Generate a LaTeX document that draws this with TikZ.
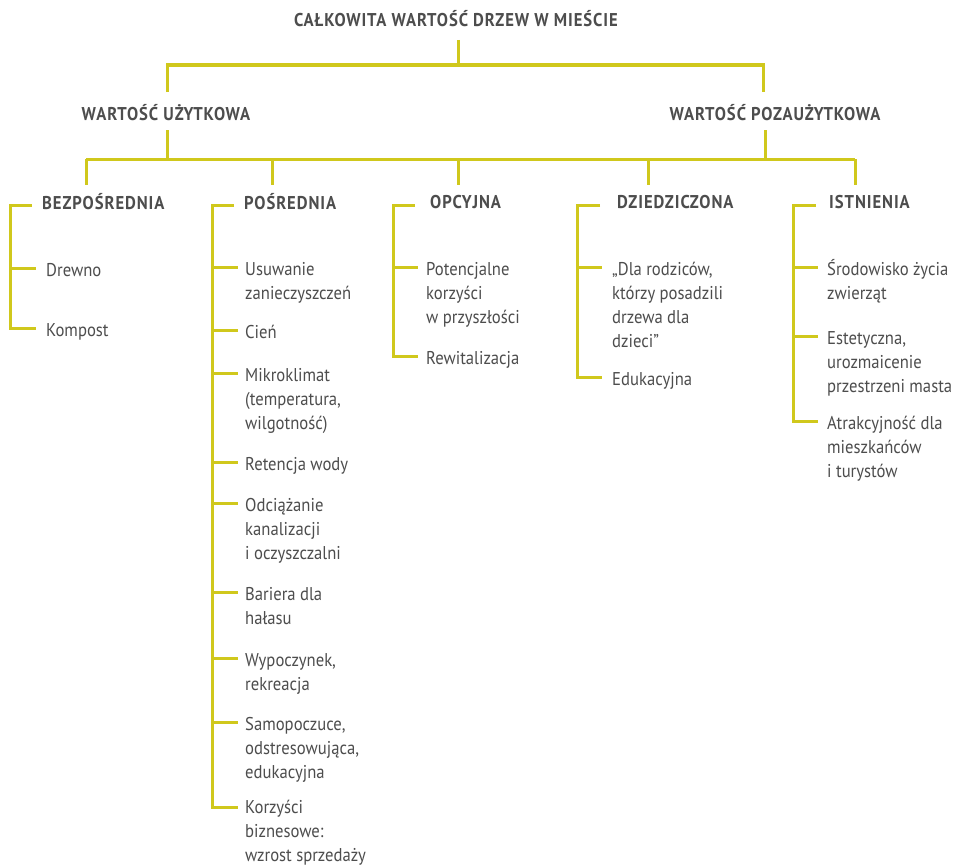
\documentclass[tikz,border=0pt]{standalone}
\usepackage{fontspec}
\setmainfont{PT Sans}[FakeStretch=0.9]
\newfontfamily\hdfont{PT Sans}[FakeStretch=0.9,LetterSpace=5]
\definecolor{ln}{RGB}{208,200,28}
\definecolor{tx}{RGB}{77,77,77}
\tikzset{
  conn/.style={draw=ln, line width=3pt, line join=miter},
  item/.style={anchor=north west, inner sep=0pt, align=left, text=tx, font=\fontsize{18.5}{24}\selectfont},
  head/.style={anchor=west, inner sep=0pt, text=tx, font=\hdfont\fontsize{18.5}{24}\selectfont\bfseries},
  top/.style={anchor=center, inner sep=0pt, text=tx, font=\hdfont\fontsize{18.5}{24}\selectfont\bfseries},
}
\begin{document}
\begin{tikzpicture}[x=1pt,y=-1pt]
\useasboundingbox[fill=white] (0,0) rectangle (963,867);
% top levels
\node[top] (title) at (456,19) {CAŁKOWITA WARTOŚĆ DRZEW W MIEŚCIE};
\node[top] (uz) at (166,113) {WARTOŚĆ UŻYTKOWA};
\node[top] (poz) at (775,113) {WARTOŚĆ POZAUŻYTKOWA};
\coordinate (c0) at (458,40);
\coordinate (j0) at (458,65);
\coordinate (jl) at (167,65);
\coordinate (jr) at (763,65);
\coordinate (dl) at (167,92);
\coordinate (dr) at (763,92);
\draw[conn] (c0) -- (j0);
\draw[conn] (dl) -- (jl) -- (jr) -- (dr);
\coordinate (ul) at (167,130);
\coordinate (ur) at (765,130);
\coordinate (ul2) at (167,159);
\coordinate (ur2) at (765,159);
\draw[conn] (ul) -- (ul2);
\draw[conn] (ur) -- (ur2);
\coordinate (h1) at (86,159);
\coordinate (h2) at (272,159);
\coordinate (h3) at (458,159);
\coordinate (h4) at (648,159);
\coordinate (h5) at (855,159);
\coordinate (d1) at (86,185);
\coordinate (d2) at (272,185);
\coordinate (d3) at (458,185);
\coordinate (d4) at (648,185);
\coordinate (d5) at (855,185);
\draw[conn] (h1) -- (h5);
\draw[conn] (h1) -- (d1);
\draw[conn] (h2) -- (d2);
\draw[conn] (h3) -- (d3);
\draw[conn] (h4) -- (d4);
\draw[conn] (h5) -- (d5);
% headers
\node[head] (bez) at (42,202) {BEZPOŚREDNIA};
\node[head] (pos) at (244,202) {POŚREDNIA};
\node[head] (opc) at (430,202) {OPCYJNA};
\node[head] (dzi) at (617,202) {DZIEDZICZONA};
\node[head] (ist) at (829,202) {ISTNIENIA};
% BEZPOSREDNIA
\node[item] (drewno) at (46,259) {\strut Drewno};
\node[item] (kompost) at (46,319) {\strut Kompost};
\coordinate (b1t) at (32,205);
\coordinate (b1a) at (36,268);
\coordinate (b1b) at (36,328);
\draw[conn] (b1t) -- (10,205) -- (10,328) -- (b1b);
\draw[conn] (10,268) -- (b1a);
% POSREDNIA
\node[item] (p1) at (245,258) {\strut Usuwanie\\zanieczyszczeń};
\node[item] (p2) at (245,321) {\strut Cień};
\node[item] (p3) at (245,364) {\strut Mikroklimat\\(temperatura,\\wilgotność)};
\node[item] (p4) at (245,453) {\strut Retencja wody};
\node[item] (p5) at (245,494) {\strut Odciążanie\\kanalizacji\\i oczyszczalni};
\node[item] (p6) at (245,583) {\strut Bariera dla\\hałasu};
\node[item] (p7) at (245,649) {\strut Wypoczynek,\\rekreacja};
\node[item] (p8) at (245,713) {\strut Samopoczuce,\\odstresowująca,\\edukacyjna};
\node[item] (p9) at (245,796.5) {\strut Korzyści\\biznesowe:\\wzrost sprzedaży};
\coordinate (b2t) at (234,205);
\coordinate (b2a) at (238,267);
\coordinate (b2b) at (238,330);
\coordinate (b2c) at (238,373);
\coordinate (b2d) at (238,462);
\coordinate (b2e) at (238,503);
\coordinate (b2f) at (238,592);
\coordinate (b2g) at (238,658);
\coordinate (b2h) at (238,722);
\coordinate (b2i) at (238,807);
\draw[conn] (b2t) -- (212,205) -- (212,807) -- (b2i);
\foreach \c/\yy in {b2a/267,b2b/330,b2c/373,b2d/462,b2e/503,b2f/592,b2g/658,b2h/722}
  \draw[conn] (212,\yy) -- (\c);
% OPCYJNA
\node[item] (o1) at (426,258) {\strut Potencjalne\\korzyści\\w przyszłości};
\node[item] (o2) at (426,347) {\strut Rewitalizacja};
\coordinate (b3t) at (415,205);
\coordinate (b3a) at (418,267);
\coordinate (b3b) at (418,356);
\draw[conn] (b3t) -- (393,205) -- (393,356) -- (b3b);
\draw[conn] (393,267) -- (b3a);
% DZIEDZICZONA
\node[item] (z1) at (612,258) {\strut „Dla rodziców,\\którzy posadzili\\drzewa dla\\dzieci”};
\node[item] (z2) at (612,368) {\strut Edukacyjna};
\coordinate (b4t) at (600,205);
\coordinate (b4a) at (602,267);
\coordinate (b4b) at (602,377);
\draw[conn] (b4t) -- (577,205) -- (577,377) -- (b4b);
\draw[conn] (577,267) -- (b4a);
% ISTNIENIA
\node[item] (i1) at (827,258) {\strut Środowisko życia\\zwierząt};
\node[item] (i2) at (827,327) {\strut Estetyczna,\\urozmaicenie\\przestrzeni masta};
\node[item] (i3) at (827,412) {\strut Atrakcyjność dla\\mieszkańców\\i turystów};
\coordinate (b5t) at (816,205);
\coordinate (b5a) at (818,267);
\coordinate (b5b) at (818,336);
\coordinate (b5c) at (818,421);
\draw[conn] (b5t) -- (793,205) -- (793,421) -- (b5c);
\draw[conn] (793,267) -- (b5a);
\draw[conn] (793,336) -- (b5b);
\end{tikzpicture}
\end{document}
